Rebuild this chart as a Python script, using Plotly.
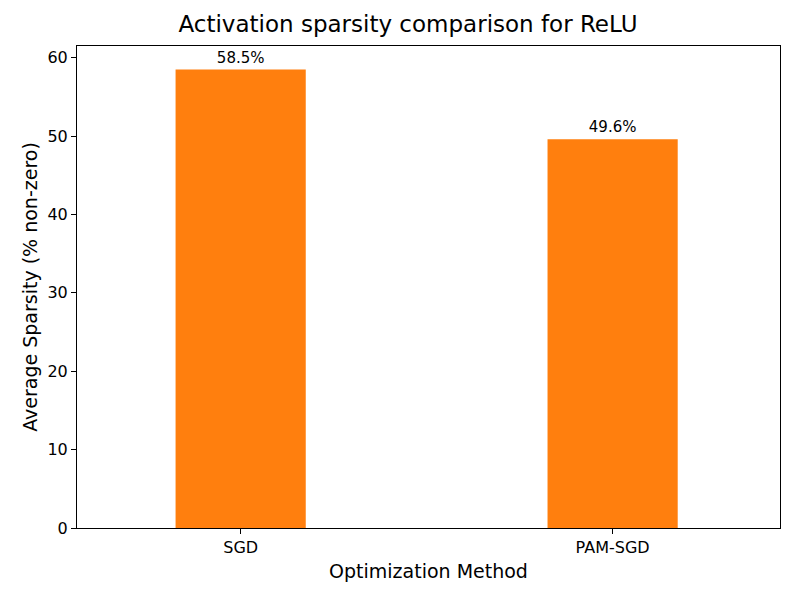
""" Bar chart of average activation sparsity per optimizer """
import plotly.graph_objects as go

methods = ["SGD", "PAM-SGD"]
sparsity = [58.5, 49.6]
y_ticks = [0, 10, 20, 30, 40, 50, 60]

FONT = "DejaVu Sans"
ORANGE = "#ff7f0e"

fig = go.Figure(go.Bar(
    x=[0, 1],
    y=sparsity,
    width=0.35,
    marker=dict(color=ORANGE, line=dict(width=0)),
    text=[f"{v:.1f}%" for v in sparsity],
    textposition="outside",
    textfont=dict(family=FONT, size=15, color="black"),
    cliponaxis=False,
))

# the page body adds an ~8px offset, so margins are shifted to compensate
fig.update_layout(
    width=800, height=600,
    paper_bgcolor="white", plot_bgcolor="white",
    margin=dict(l=69, r=28, t=38, b=80, autoexpand=False),
    showlegend=False,
    title=dict(text="Activation sparsity comparison for ReLU",
               x=0.5, xanchor="center", y=0.973, yanchor="middle",
               font=dict(family=FONT, size=23, color="black")),
    font=dict(family=FONT, color="black"),
)
fig.update_xaxes(
    range=[-0.44, 1.45],
    tickvals=[0, 1], ticktext=methods,
    ticks="outside", ticklen=5, tickcolor="black",
    tickfont=dict(size=16),
    showline=True, linecolor="black", mirror=True, linewidth=1,
    showgrid=False, zeroline=False, automargin=False,
    title=dict(text="Optimization Method", font=dict(size=19), standoff=8),
)
fig.update_yaxes(
    range=[0, 61.5],
    tickvals=y_ticks,
    ticks="outside", ticklen=5, tickcolor="black",
    tickfont=dict(size=16),
    showline=True, linecolor="black", mirror=True, linewidth=1,
    showgrid=False, zeroline=False, automargin=False,
    title=dict(text="Average Sparsity (% non-zero)", font=dict(size=19), standoff=4),
)

fig.write_html("out.html")
